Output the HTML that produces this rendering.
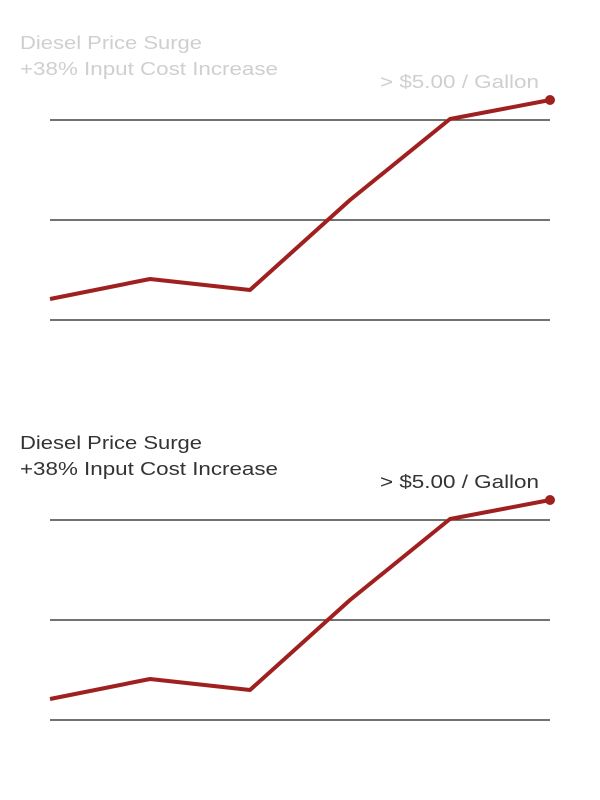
<!DOCTYPE html>
<html><head><meta charset="utf-8"><style>
html,body{margin:0;padding:0;background:#fff;}
svg{display:block;}
text{font-family:"Liberation Sans",sans-serif;font-size:18.5px;}
</style></head><body>
<svg width="600" height="800" viewBox="0 0 600 800">
<g>
<text x="20" y="49" fill="#cfcfcf" textLength="182" lengthAdjust="spacingAndGlyphs">Diesel Price Surge</text>
<text x="20" y="75" fill="#cfcfcf" textLength="258" lengthAdjust="spacingAndGlyphs">+38% Input Cost Increase</text>
<text x="380" y="88" fill="#cfcfcf" textLength="159" lengthAdjust="spacingAndGlyphs">&gt; $5.00 / Gallon</text>
<g stroke="#444" stroke-width="1.5"><line x1="50" y1="120" x2="550" y2="120"/><line x1="50" y1="220" x2="550" y2="220"/><line x1="50" y1="320" x2="550" y2="320"/></g>
<polyline points="50,299 150,279 250,290 350,200 450,119 550,100" fill="none" stroke="#a02020" stroke-width="4" stroke-linejoin="round"/>
<circle cx="550" cy="100" r="5" fill="#a02020"/>
</g>
<g transform="translate(0,400)">
<text x="20" y="49" fill="#333" textLength="182" lengthAdjust="spacingAndGlyphs">Diesel Price Surge</text>
<text x="20" y="75" fill="#333" textLength="258" lengthAdjust="spacingAndGlyphs">+38% Input Cost Increase</text>
<text x="380" y="88" fill="#333" textLength="159" lengthAdjust="spacingAndGlyphs">&gt; $5.00 / Gallon</text>
<g stroke="#444" stroke-width="1.5"><line x1="50" y1="120" x2="550" y2="120"/><line x1="50" y1="220" x2="550" y2="220"/><line x1="50" y1="320" x2="550" y2="320"/></g>
<polyline points="50,299 150,279 250,290 350,200 450,119 550,100" fill="none" stroke="#a02020" stroke-width="4" stroke-linejoin="round"/>
<circle cx="550" cy="100" r="5" fill="#a02020"/>
</g>
</svg>
</body></html>
